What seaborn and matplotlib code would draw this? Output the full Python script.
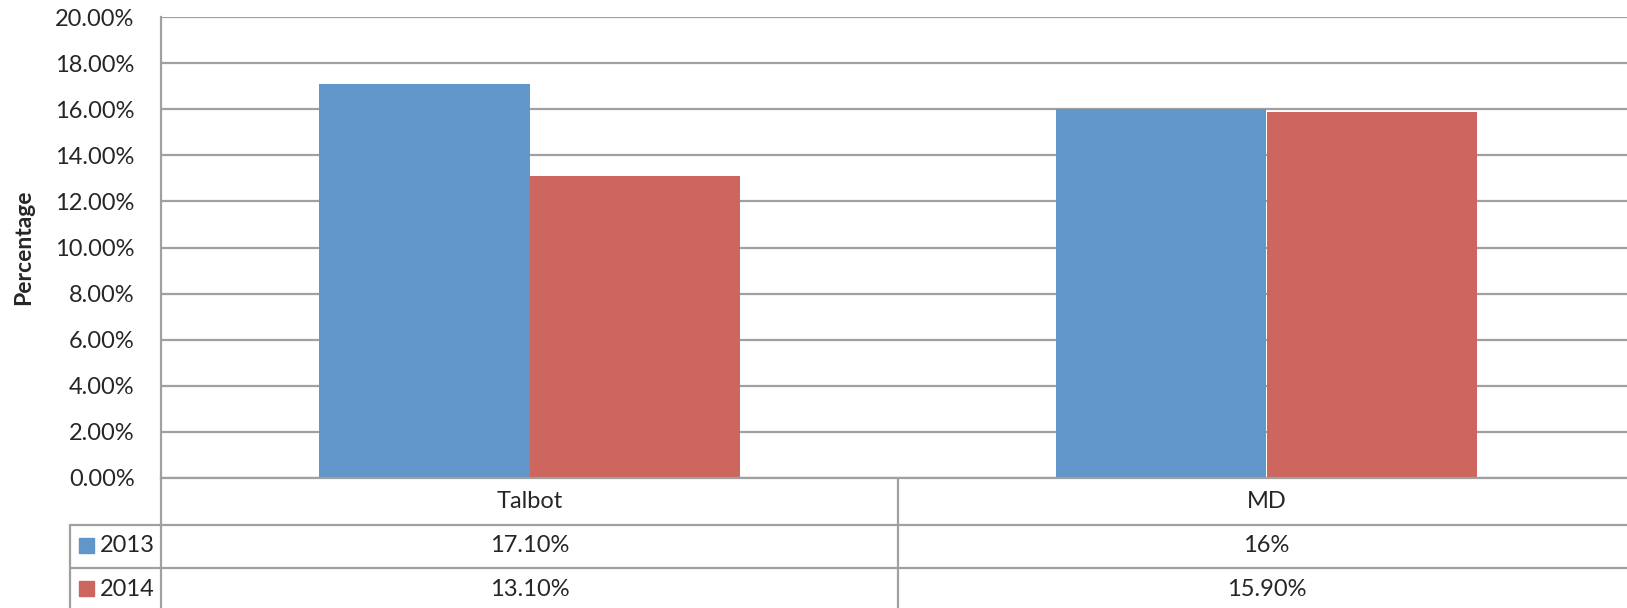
import pandas as pd
import matplotlib.pyplot as plt
import seaborn as sns
from matplotlib.lines import Line2D
from matplotlib.patches import Rectangle
from matplotlib.ticker import PercentFormatter, MultipleLocator
import matplotlib.transforms as mtransforms

# data
categories = ['Talbot', 'MD']
years = ['2013', '2014']
values_2013 = [0.171, 0.16]
values_2014 = [0.131, 0.159]
table_2013 = ['17.10%', '16%']
table_2014 = ['13.10%', '15.90%']

colors = {'2013': '#6096C9', '2014': '#CD665F'}
grid_col = '#A0A0A0'

df = pd.DataFrame({
    'Area': categories * 2,
    'Year': [years[0]] * len(categories) + [years[1]] * len(categories),
    'Value': values_2013 + values_2014,
})

sns.set_style('white')
plt.rcParams['font.family'] = ['Lato', 'DejaVu Sans']
fs = 17

W, H = 1627, 608
fig = plt.figure(figsize=(W / 100, H / 100), dpi=100)
ax = fig.add_axes([161 / W, 1 - 478 / H, 1474 / W, 461 / H])

sns.barplot(data=df, x='Area', y='Value', hue='Year', palette=colors,
            width=0.57, linewidth=0, saturation=1, ax=ax, legend=False)

ax.set_xlim(-0.5, 1.5)
ax.set_ylim(0, 0.2)
ax.yaxis.set_major_locator(MultipleLocator(0.02))
ax.yaxis.set_major_formatter(PercentFormatter(xmax=1, decimals=2))
ax.set_axisbelow(True)
ax.yaxis.grid(True, color=grid_col, lw=1.6)
ax.set_xticks([])
ax.set_xlabel('')
ax.set_ylabel('Percentage', fontsize=16.5, fontweight='bold', labelpad=15)
ax.tick_params(axis='y', length=0, pad=19, labelsize=fs)
for s in ['top', 'right']:
    ax.spines[s].set_visible(False)
for s in ['left', 'bottom']:
    ax.spines[s].set_color(grid_col)
    ax.spines[s].set_linewidth(1.6)

# data table below the chart
def fy(px):
    return 1 - px / H

def hline(x0, x1, y):
    fig.add_artist(Line2D([x0 / W, x1 / W], [fy(y), fy(y)], color=grid_col, lw=1.6,
                          transform=fig.transFigure))

def vline(x, y0, y1):
    fig.add_artist(Line2D([x / W, x / W], [fy(y0), fy(y1)], color=grid_col, lw=1.6,
                          transform=fig.transFigure))

hline(70, W, 525)
hline(70, W, 568)
vline(70, 525, H)
vline(161, 478, H)
vline(898, 478, H)

trans = mtransforms.blended_transform_factory(ax.transData, fig.transFigure)
for i, cat in enumerate(categories):
    fig.text(i, fy(501), cat, transform=trans, ha='center', va='center', fontsize=fs)
    fig.text(i, fy(546), table_2013[i], transform=trans, ha='center', va='center', fontsize=fs)
    fig.text(i, fy(589), table_2014[i], transform=trans, ha='center', va='center', fontsize=fs)

for yr, yc in zip(years, [546, 589]):
    fig.add_artist(Rectangle((79 / W, fy(yc + 7)), 15 / W, 15 / H, color=colors[yr],
                             transform=fig.transFigure))
    fig.text(100 / W, fy(yc), yr, ha='left', va='center', fontsize=fs)

fig.savefig('out.png', dpi=100)
